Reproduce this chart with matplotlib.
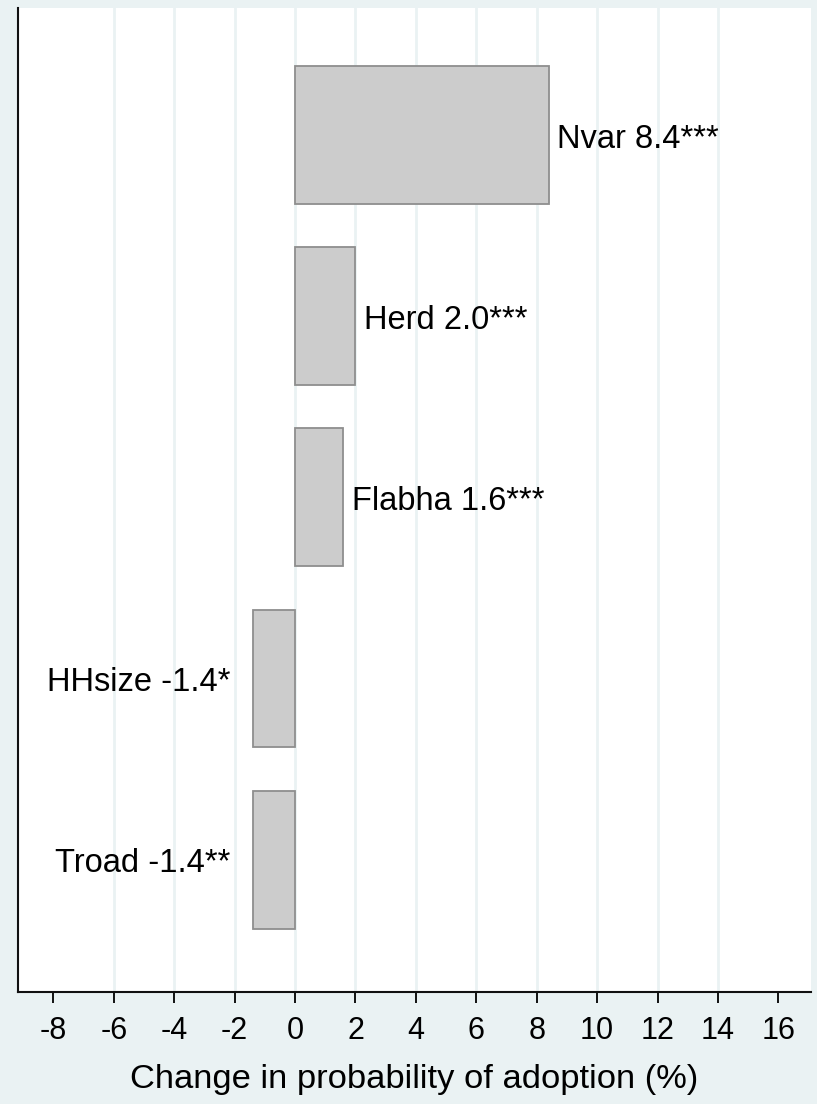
import matplotlib
matplotlib.use("Agg")
import matplotlib.pyplot as plt
import numpy as np

# marginal effects on adoption probability (%), top to bottom
variables = ['Nvar', 'Herd', 'Flabha', 'HHsize', 'Troad']
effects = [8.4, 2.0, 1.6, -1.4, -1.4]
stars = ['***', '***', '***', '*', '**']
xticks = [-8, -6, -4, -2, 0, 2, 4, 6, 8, 10, 12, 14, 16]

bg = '#EAF2F3'
plt.rcParams['font.family'] = ['Liberation Sans', 'DejaVu Sans']

fig = plt.figure(figsize=(8.17, 11.04), dpi=100, facecolor=bg)
ax = fig.add_axes([18 / 817, 112 / 1104, 793 / 817, 984 / 1104])
ax.set_facecolor('white')

ypos = np.arange(len(variables))[::-1]
ax.barh(ypos, effects, height=0.76, color='#CCCCCC', edgecolor='#8E8E8E',
        linewidth=1.3, zorder=3)

for y, name, val, st in zip(ypos, variables, effects, stars):
    txt = f'{name} {val:.1f}{st}'
    if val >= 0:
        ax.annotate(txt, (val, y), xytext=(6, -3), textcoords='offset points',
                    ha='left', va='center', fontsize=23.5, zorder=4)
    else:
        ax.annotate(txt, (val, y), xytext=(-16, -3), textcoords='offset points',
                    ha='right', va='center', fontsize=23.5, zorder=4)

ax.set_xlim(-9.17, 17.08)
ax.set_ylim(-0.73, 4.70)
ax.set_xticks(xticks)
ax.set_xticklabels([str(t) for t in xticks])
ax.set_yticks([])

ax.grid(axis='x', color=bg, linewidth=2.0, zorder=0)
gl = ax.get_xgridlines()
gl[0].set_visible(False)
gl[-1].set_visible(False)

for s in ['top', 'right']:
    ax.spines[s].set_visible(False)
for s in ['left', 'bottom']:
    ax.spines[s].set_color('#111111')
    ax.spines[s].set_linewidth(1.5)

ax.tick_params(axis='x', length=8, width=1.4, color='#111111', pad=9,
               labelsize=22)
ax.set_xlabel('Change in probability of adoption (%)', fontsize=24.8,
              labelpad=13)

fig.savefig('out.png', dpi=100, facecolor=bg)
